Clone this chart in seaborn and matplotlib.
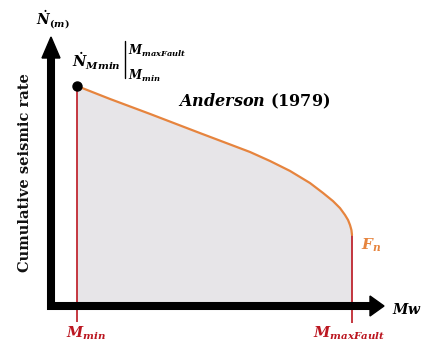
import numpy as np
import pandas as pd
import matplotlib
matplotlib.use("Agg")
import matplotlib.pyplot as plt
from matplotlib.transforms import Affine2D
from matplotlib.patches import Polygon
import seaborn as sns

# Truncated cumulative rate curve (Anderson, 1979), normalised to N(Mmin) = 1
magnitude = [5.000, 5.300, 5.664, 6.118, 6.573, 6.755, 6.936, 7.118, 7.236,
             7.327, 7.391, 7.436, 7.464, 7.482, 7.495, 7.500]
cum_rate = [1.000, 0.941, 0.873, 0.786, 0.700, 0.659, 0.614, 0.559, 0.514,
            0.477, 0.445, 0.414, 0.391, 0.368, 0.345, 0.323]
m_min = 5.0
m_max_fault = 7.5

W, H = 435, 341
sns.set_theme(style="white")
plt.rcParams["mathtext.fontset"] = "custom"
plt.rcParams["mathtext.it"] = "DejaVu Serif:italic:bold"
plt.rcParams["mathtext.rm"] = "DejaVu Serif:bold"
plt.rcParams["mathtext.bf"] = "DejaVu Serif:bold"
plt.rcParams["font.family"] = ["DejaVu Serif"]

fig = plt.figure(figsize=(W / 100, H / 100), dpi=100)
ax = fig.add_axes([0, 0, 1, 1])
ax.set_xlim(4.3, 4.3 + W / 110)
ax.set_ylim(-(H - 306) / 220, 306 / 220)
ax.axis("off")

# pixel frame (origin top-left) for the sketch decorations
px = Affine2D().scale(1, -1).translate(0, H)

df = pd.DataFrame({"Mw": magnitude, "rate": cum_rate})

ORANGE = "#e6843e"
RED = "#bb1620"

ax.fill_between(df["Mw"], df["rate"], 0, color="#e7e5e8", lw=0, zorder=1)
ax.vlines([m_min], -0.073, cum_rate[0], color=RED, lw=1.2, zorder=2)
ax.vlines([m_max_fault], -0.078, cum_rate[-1], color=RED, lw=1.2, zorder=2)
sns.lineplot(data=df, x="Mw", y="rate", color=ORANGE, lw=1.6, ax=ax, zorder=3,
             sort=False, solid_joinstyle="round")
ax.plot([m_min], [cum_rate[0]], "o", color="black", ms=6.5, zorder=6)

# axes drawn as thick arrows
ax.plot([51, 51, 372], [57, 306, 306], color="black", lw=5.8,
        solid_joinstyle="miter", solid_capstyle="projecting",
        transform=px, zorder=4)
ax.add_patch(Polygon([[42, 58], [60, 58], [51, 37]], closed=True, color="black",
                     transform=px, zorder=4))
ax.add_patch(Polygon([[370, 296], [370, 316], [384, 306]], closed=True,
                     color="black", transform=px, zorder=4))

# labels
ax.text(53, 20, r"$\dot{N}_{(m)}$", transform=px, ha="center", va="center",
        fontsize=10, color="black")
ax.text(25, 173, "Cumulative seismic rate", transform=px, ha="center",
        va="center", rotation=90, fontsize=10.5, fontweight="bold",
        color="#111111")
ax.text(72, 68, r"$\dot{N}_{Mmin}$", transform=px, ha="left", va="baseline",
        fontsize=10.5, color="black")
ax.plot([125, 125], [41, 78], color="black", lw=1.0, transform=px, zorder=4)
ax.text(128, 55, r"$M_{maxFault}$", transform=px, ha="left", va="baseline",
        fontsize=8.5, color="black")
ax.text(128, 80, r"$M_{min}$", transform=px, ha="left", va="baseline",
        fontsize=8.5, color="black")
ax.text(254, 101, r"$Anderson\ \mathrm{(1979)}$", transform=px, ha="center",
        va="center", fontsize=11.5, color="black")
ax.text(371, 245, r"$F_n$", transform=px, ha="center", va="center",
        fontsize=11, color=ORANGE)
ax.text(392, 310, r"$Mw$", transform=px, ha="left", va="center",
        fontsize=10, color="black")
ax.text(86, 333, r"$M_{min}$", transform=px, ha="center", va="center",
        fontsize=10.5, color=RED)
ax.text(349, 333, r"$M_{maxFault}$", transform=px, ha="center", va="center",
        fontsize=10.5, color=RED)

fig.savefig("out.png", dpi=100, facecolor="white")
